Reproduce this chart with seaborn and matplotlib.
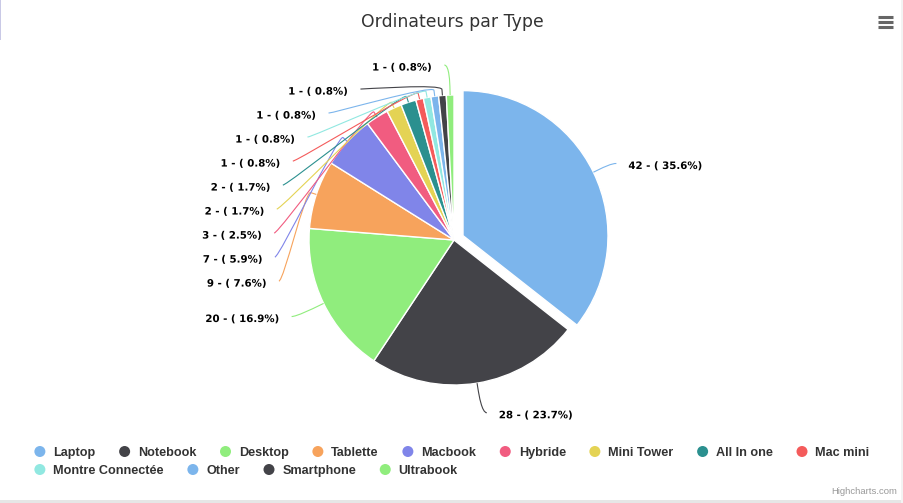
import numpy as np
import matplotlib
matplotlib.use("Agg")
import matplotlib.pyplot as plt
import seaborn as sns
from matplotlib.path import Path
from matplotlib.patches import PathPatch, Circle, Rectangle
import matplotlib.patheffects as pe

# ---------------- data ----------------
categories = ["Laptop", "Notebook", "Desktop", "Tablette", "Macbook", "Hybride",
              "Mini Tower", "All In one", "Mac mini", "Montre Connectée", "Other",
              "Smartphone", "Ultrabook"]
counts = [42, 28, 20, 9, 7, 3, 2, 2, 1, 1, 1, 1, 1]
colors_hex = ["#7cb5ec", "#434348", "#90ed7d", "#f7a35c", "#8085e9", "#f15c80",
              "#e4d354", "#2b908f", "#f45b5b", "#91e8e1", "#7cb5ec", "#434348",
              "#90ed7d"]
sliced = ["Laptop"]
title = "Ordinateurs par Type"
credit = "Highcharts.com"

# ---------------- figure ----------------
W, H = 904, 503
sns.set_theme(style="white")
plt.rcParams['font.family'] = ['DejaVu Sans']
palette = sns.color_palette(colors_hex)

fig = plt.figure(figsize=(W / 100, H / 100), dpi=100)
fig.patch.set_facecolor("white")
ax = fig.add_axes([0, 0, 1, 1])

CX, CY, R = 454, 240, 145
EXPL = 10
explode = [EXPL if c in sliced else 0 for c in categories]

wedges, _ = ax.pie(counts, colors=palette, startangle=-90, counterclock=True,
                   radius=R, center=(CX, CY), explode=explode,
                   wedgeprops=dict(edgecolor="white", linewidth=1))
ax.set_xlim(0, W)
ax.set_ylim(H, 0)
ax.set_aspect("auto")
ax.axis("off")

# ---------------- data labels (Highcharts-like layout) ----------------
total = float(sum(counts))
fr = np.array(counts) / total
cum = np.cumsum(fr)
mid = cum - fr / 2
theta = 2 * np.pi * mid  # clockwise from top
dx = np.sin(theta)
dy = -np.cos(theta)  # screen coords, y down
LD = 30
RL = R + LD
CONN_OFF = LD / 5
SPACING = 24

nat_y = CY + RL * dy
label_y = nat_y.copy()
for side in (-1, 1):
    idx = [i for i in range(len(counts)) if np.sign(dx[i]) == side or (dx[i] == 0 and side == 1)]
    idx.sort(key=lambda i: nat_y[i])
    prev = None
    for i in idx:
        if prev is not None and label_y[i] < prev + SPACING:
            label_y[i] = prev + SPACING
        prev = label_y[i]

lab_font = dict(family="DejaVu Sans", weight="bold", size=7.35, color="#000000")
for i, c in enumerate(categories):
    left = dx[i] < 0
    sgn = -1 if left else 1
    y = label_y[i]
    x = CX + sgn * (np.sqrt(max(RL ** 2 - (y - CY) ** 2, 0)) + 5)
    off = EXPL if c in sliced else 0
    ox, oy = dx[i] * off, dy[i] * off
    touch = np.array([CX + ox + dx[i] * R, CY + oy + dy[i] * R])
    brk = np.array([CX + ox + dx[i] * (R + CONN_OFF), CY + oy + dy[i] * (R + CONN_OFF)])
    c1 = (x + (5 if left else -5), y)
    c2 = 2 * brk - touch
    verts = [(x, y), c1, tuple(c2), tuple(brk), tuple(touch)]
    codes = [Path.MOVETO, Path.CURVE4, Path.CURVE4, Path.CURVE4, Path.LINETO]
    ax.add_patch(PathPatch(Path(verts, codes), fill=False, edgecolor=palette[i],
                           lw=0.8, zorder=3, capstyle="butt"))
    pct = counts[i] / total * 100
    txt = f"{counts[i]} - ( {pct:.1f}%)"
    ax.text(x + sgn * 12, y + 2.5, txt, ha="right" if left else "left",
            va="center", zorder=5, **lab_font,
            path_effects=[pe.withStroke(linewidth=1.5, foreground="white")])

# ---------------- title, menu, credit ----------------
ax.text(W / 2, 27, title, ha="center", va="baseline", family="DejaVu Sans",
        size=12.4, color="#333333")
for yy in (16.5, 21.5, 26.5):
    ax.plot([878.5, 893], [yy, yy], color="#666666", lw=2.2,
            solid_capstyle="butt")
ax.text(897, 491.5, credit, ha="right", va="center", family="Liberation Sans",
        size=6.8, color="#999999")

# ---------------- legend (flow layout) ----------------
leg_font = dict(family="Liberation Sans", weight="bold", size=9.1, color="#333333")
renderer = fig.canvas.get_renderer()
widths = []
for c in categories:
    t = ax.text(0, 0, c, **leg_font)
    widths.append(t.get_window_extent(renderer).width)
    t.remove()

MARK_D = 11
TXT_OFF = 19
GAP = 23.5
MAXW = 860
rows, cur, curw = [], [], 0
for i, w in enumerate(widths):
    iw = TXT_OFF + w
    add = iw if not cur else GAP + iw
    if cur and curw + add > MAXW:
        rows.append((cur, curw))
        cur, curw = [i], iw
    else:
        cur.append(i)
        curw += add
if cur:
    rows.append((cur, curw))
boxw = max(rw for _, rw in rows)
x0 = (W - boxw) / 2
row_y = [451.5, 469.5]
for r, (items, _) in enumerate(rows):
    xl = x0
    y = row_y[r] if r < len(row_y) else row_y[-1] + 18 * (r - 1)
    for i in items:
        ax.add_patch(Circle((xl + MARK_D / 2, y), MARK_D / 2, color=palette[i],
                            zorder=4, lw=0))
        ax.text(xl + TXT_OFF, y + 4.5, categories[i], ha="left", va="baseline",
                **leg_font)
        xl += TXT_OFF + widths[i] + GAP

# ---------------- container border ----------------
ax.add_patch(Rectangle((0, 499.5), W, 4, color="#e6e6e6", lw=0, zorder=1))
ax.add_patch(Rectangle((901, 0), 3, H, color="#f3f3f3", lw=0, zorder=1))
ax.add_patch(Rectangle((0, 0), 1.2, 40, color="#c9c9e6", lw=0, zorder=1))

fig.savefig("out.png", dpi=100, facecolor="white")
